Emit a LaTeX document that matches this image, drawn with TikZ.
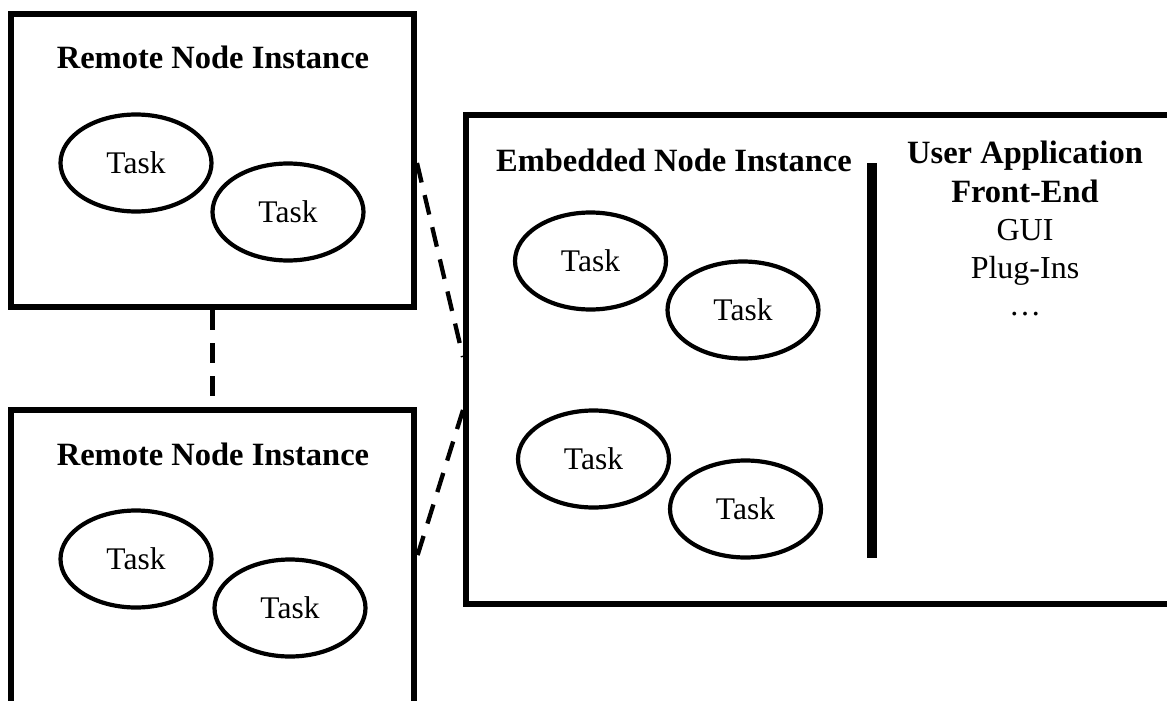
\documentclass[tikz,border=0pt]{standalone}
\usepackage{fontspec}
\setmainfont{Liberation Serif}
\usetikzlibrary{shapes.geometric}
\begin{document}
\begin{tikzpicture}[x=1pt,y=-1pt,
  box/.style={draw,line width=6pt,rectangle,inner sep=0pt},
  task/.style={draw,ellipse,line width=4.2pt,minimum width=151pt,minimum height=97pt,inner sep=0pt,font=\fontsize{31.5}{36}\selectfont},
  title/.style={anchor=base,inner sep=0pt,font=\fontsize{32.5}{38}\selectfont\bfseries},
  plaintxt/.style={anchor=base,inner sep=0pt,font=\fontsize{32}{38}\selectfont},
  link/.style={line width=4.3pt,dash pattern=on 20pt off 13pt}]
\useasboundingbox (0,0) rectangle (1167,701);
\clip (0,0) rectangle (1167,701);
% boxes
\node[box,minimum width=403pt,minimum height=293pt] (TL) at (212.5,160.5) {};
\node[box,minimum width=403pt,minimum height=400pt] (BL) at (212.5,610) {};
\node[box,minimum width=794pt,minimum height=489pt] (R) at (863,359.5) {};
% titles
\node[title] (tlt) at (213,69) {Remote Node Instance};
\node[title] (blt) at (213,465) {Remote Node Instance};
\node[title] (rt) at (674,171) {Embedded Node Instance};
% user application text
\node[title] (ua1) at (1025,163) {User Application};
\node[title] (ua2) at (1025,202) {Front-End};
\node[plaintxt] (ua3) at (1025,240) {GUI};
\node[plaintxt] (ua4) at (1025,278) {Plug-Ins};
\node[plaintxt] (ua5) at (1025,315) {…};
% divider
\draw[line width=10.5pt] (872,163) -- (872,558);
% tasks
\node[task] (A1) at (136,163) {Task};
\node[task] (A2) at (288,212) {Task};
\node[task] (B1) at (136,559) {Task};
\node[task] (B2) at (290,608) {Task};
\node[task] (C1) at (590.5,261) {Task};
\node[task] (C2) at (743,310) {Task};
\node[task] (C3) at (593.5,459) {Task};
\node[task] (C4) at (745.5,509) {Task};
% connectors
\coordinate (p1) at (TL.east |- 0,163);
\coordinate (q1) at (R.west |- 0,357);
\coordinate (q2) at (R.west |- 0,410);
\coordinate (p2) at (BL.east |- 0,557);
\draw[link] (p1) -- (q1);
\draw[link] (q2) -- (p2);
\draw[link] (TL.south) -- (BL.north);
\end{tikzpicture}
\end{document}
